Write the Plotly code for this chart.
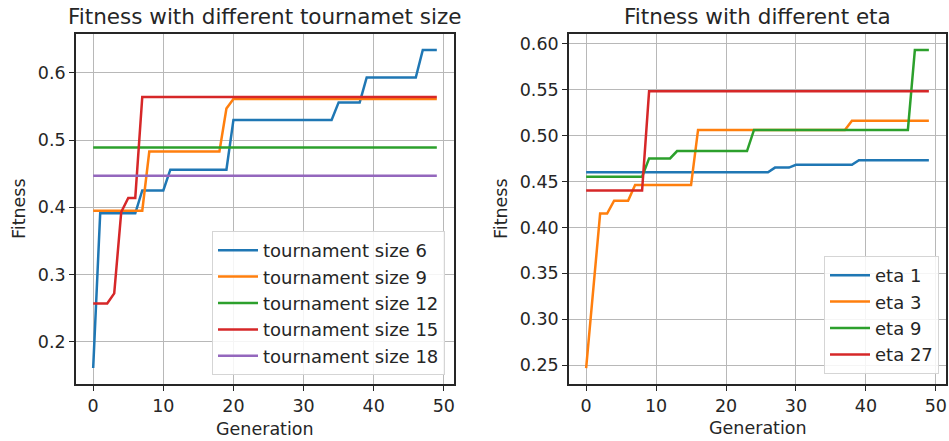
import plotly.graph_objects as go

generations = list(range(50))

# Left panel: tournament size
ts_labels = ["tournament size 6", "tournament size 9", "tournament size 12",
             "tournament size 15", "tournament size 18"]
ts6 = [0.161, 0.391, 0.391, 0.391, 0.391, 0.391, 0.391, 0.425, 0.425, 0.425,
       0.425, 0.456, 0.456, 0.456, 0.456, 0.456, 0.456, 0.456, 0.456, 0.456,
       0.530, 0.530, 0.530, 0.530, 0.530, 0.530, 0.530, 0.530, 0.530, 0.530,
       0.530, 0.530, 0.530, 0.530, 0.530, 0.556, 0.556, 0.556, 0.556, 0.593,
       0.593, 0.593, 0.593, 0.593, 0.593, 0.593, 0.593, 0.634, 0.634, 0.634]
ts9 = [0.395, 0.395, 0.395, 0.395, 0.395, 0.395, 0.395, 0.395, 0.483, 0.483,
       0.483, 0.483, 0.483, 0.483, 0.483, 0.483, 0.483, 0.483, 0.483, 0.547,
       0.561, 0.561, 0.561, 0.561, 0.561, 0.561, 0.561, 0.561, 0.561, 0.561,
       0.561, 0.561, 0.561, 0.561, 0.561, 0.561, 0.561, 0.561, 0.561, 0.561,
       0.561, 0.561, 0.561, 0.561, 0.561, 0.561, 0.561, 0.561, 0.561, 0.561]
ts12 = [0.489] * 50
ts15 = [0.257, 0.257, 0.257, 0.272, 0.393, 0.414, 0.414, 0.564, 0.564, 0.564,
        0.564, 0.564, 0.564, 0.564, 0.564, 0.564, 0.564, 0.564, 0.564, 0.564,
        0.564, 0.564, 0.564, 0.564, 0.564, 0.564, 0.564, 0.564, 0.564, 0.564,
        0.564, 0.564, 0.564, 0.564, 0.564, 0.564, 0.564, 0.564, 0.564, 0.564,
        0.564, 0.564, 0.564, 0.564, 0.564, 0.564, 0.564, 0.564, 0.564, 0.564]
ts18 = [0.447] * 50

# Right panel: eta
eta_labels = ["eta 1", "eta 3", "eta 9", "eta 27"]
eta1 = [0.460, 0.460, 0.460, 0.460, 0.460, 0.460, 0.460, 0.460, 0.460, 0.460,
        0.460, 0.460, 0.460, 0.460, 0.460, 0.460, 0.460, 0.460, 0.460, 0.460,
        0.460, 0.460, 0.460, 0.460, 0.460, 0.460, 0.460, 0.465, 0.465, 0.465,
        0.468, 0.468, 0.468, 0.468, 0.468, 0.468, 0.468, 0.468, 0.468, 0.473,
        0.473, 0.473, 0.473, 0.473, 0.473, 0.473, 0.473, 0.473, 0.473, 0.473]
eta3 = [0.247, 0.331, 0.415, 0.415, 0.429, 0.429, 0.429, 0.446, 0.446, 0.446,
        0.446, 0.446, 0.446, 0.446, 0.446, 0.446, 0.506, 0.506, 0.506, 0.506,
        0.506, 0.506, 0.506, 0.506, 0.506, 0.506, 0.506, 0.506, 0.506, 0.506,
        0.506, 0.506, 0.506, 0.506, 0.506, 0.506, 0.506, 0.506, 0.516, 0.516,
        0.516, 0.516, 0.516, 0.516, 0.516, 0.516, 0.516, 0.516, 0.516, 0.516]
eta9 = [0.455, 0.455, 0.455, 0.455, 0.455, 0.455, 0.455, 0.455, 0.455, 0.475,
        0.475, 0.475, 0.475, 0.483, 0.483, 0.483, 0.483, 0.483, 0.483, 0.483,
        0.483, 0.483, 0.483, 0.483, 0.506, 0.506, 0.506, 0.506, 0.506, 0.506,
        0.506, 0.506, 0.506, 0.506, 0.506, 0.506, 0.506, 0.506, 0.506, 0.506,
        0.506, 0.506, 0.506, 0.506, 0.506, 0.506, 0.506, 0.593, 0.593, 0.593]
eta27 = [0.440, 0.440, 0.440, 0.440, 0.440, 0.440, 0.440, 0.440, 0.440, 0.548,
         0.548, 0.548, 0.548, 0.548, 0.548, 0.548, 0.548, 0.548, 0.548, 0.548,
         0.548, 0.548, 0.548, 0.548, 0.548, 0.548, 0.548, 0.548, 0.548, 0.548,
         0.548, 0.548, 0.548, 0.548, 0.548, 0.548, 0.548, 0.548, 0.548, 0.548,
         0.548, 0.548, 0.548, 0.548, 0.548, 0.548, 0.548, 0.548, 0.548, 0.548]

x_ticks = [0, 10, 20, 30, 40, 50]
left_y_ticks = [0.2, 0.3, 0.4, 0.5, 0.6]
right_y_ticks = [0.25, 0.30, 0.35, 0.40, 0.45, 0.50, 0.55, 0.60]

colors = ["#1f77b4", "#ff7f0e", "#2ca02c", "#d62728", "#9467bd"]
FONT = "DejaVu Sans"
W, H = 949, 441
MT, MB = 34, 57
PH = H - MT - MB

fig = go.Figure()
for ys, name, c in zip([ts6, ts9, ts12, ts15, ts18], ts_labels, colors):
    fig.add_trace(go.Scatter(x=generations, y=ys, mode="lines", name=name,
                             line=dict(color=c, width=2.5), xaxis="x", yaxis="y",
                             legend="legend"))
for ys, name, c in zip([eta1, eta3, eta9, eta27], eta_labels, colors):
    fig.add_trace(go.Scatter(x=generations, y=ys, mode="lines", name=name,
                             line=dict(color=c, width=2.5), xaxis="x2", yaxis="y2",
                             legend="legend2"))

axis_common = dict(showgrid=True, gridcolor="#b8b8b8", gridwidth=1.2,
                   showline=True, linecolor="#262626", linewidth=1.6, mirror=True,
                   ticks="outside", ticklen=5, tickwidth=1.3, tickcolor="#262626",
                   zeroline=False, tickfont=dict(family=FONT, size=17.5, color="#262626"))

left_dom = [76 / W, 454 / W]
right_dom = [569 / W, 946 / W]

legend_common = dict(xanchor="right", yanchor="bottom",
                     bgcolor="rgba(255,255,255,0.85)", bordercolor="#d5d5d5", borderwidth=1,
                     font=dict(family=FONT, size=18, color="#262626"),
                     itemwidth=40, tracegroupgap=0)

fig.update_layout(
    width=W, height=H,
    margin=dict(l=0, r=0, t=MT, b=MB),
    paper_bgcolor="white", plot_bgcolor="white",
    font=dict(family=FONT, size=17, color="#262626"),
    xaxis=dict(domain=left_dom, range=[-2.45, 51.45], tickvals=x_ticks, anchor="y",
               **axis_common),
    yaxis=dict(domain=[0, 1], range=[0.1373, 0.6577], tickvals=left_y_ticks,
               tickformat=".1f", anchor="x", **axis_common),
    xaxis2=dict(domain=right_dom, range=[-2.45, 51.45], tickvals=x_ticks, anchor="y2",
                **axis_common),
    yaxis2=dict(domain=[0, 1], range=[0.2297, 0.6103], tickvals=right_y_ticks,
                tickformat=".2f", anchor="x2", **axis_common),
    legend=dict(x=445 / W, y=(H - MB - 375) / PH, **legend_common),
    legend2=dict(x=939 / W, y=(H - MB - 374) / PH, **legend_common),
    showlegend=True,
)

annots = [
    dict(text="Fitness with different tournamet size", x=(76 + 454) / 2 / W,
         y=(H - MB - 16) / PH, font=dict(size=21.5)),
    dict(text="Fitness with different eta", x=(569 + 946) / 2 / W,
         y=(H - MB - 16) / PH, font=dict(size=21.5)),
    dict(text="Generation", x=(76 + 454) / 2 / W, y=(H - MB - 429) / PH,
         font=dict(size=17.5)),
    dict(text="Generation", x=(569 + 946) / 2 / W, y=(H - MB - 428) / PH,
         font=dict(size=17.5)),
    dict(text="Fitness", x=19 / W, y=(H - MB - 209) / PH, textangle=-90,
         font=dict(size=17.5)),
    dict(text="Fitness", x=501 / W, y=(H - MB - 209) / PH, textangle=-90,
         font=dict(size=17.5)),
]
for a in annots:
    fig.add_annotation(xref="paper", yref="paper", showarrow=False,
                       xanchor="center", yanchor="middle",
                       font_family=FONT, font_color="#262626", **a)

fig.write_html("out.html")
